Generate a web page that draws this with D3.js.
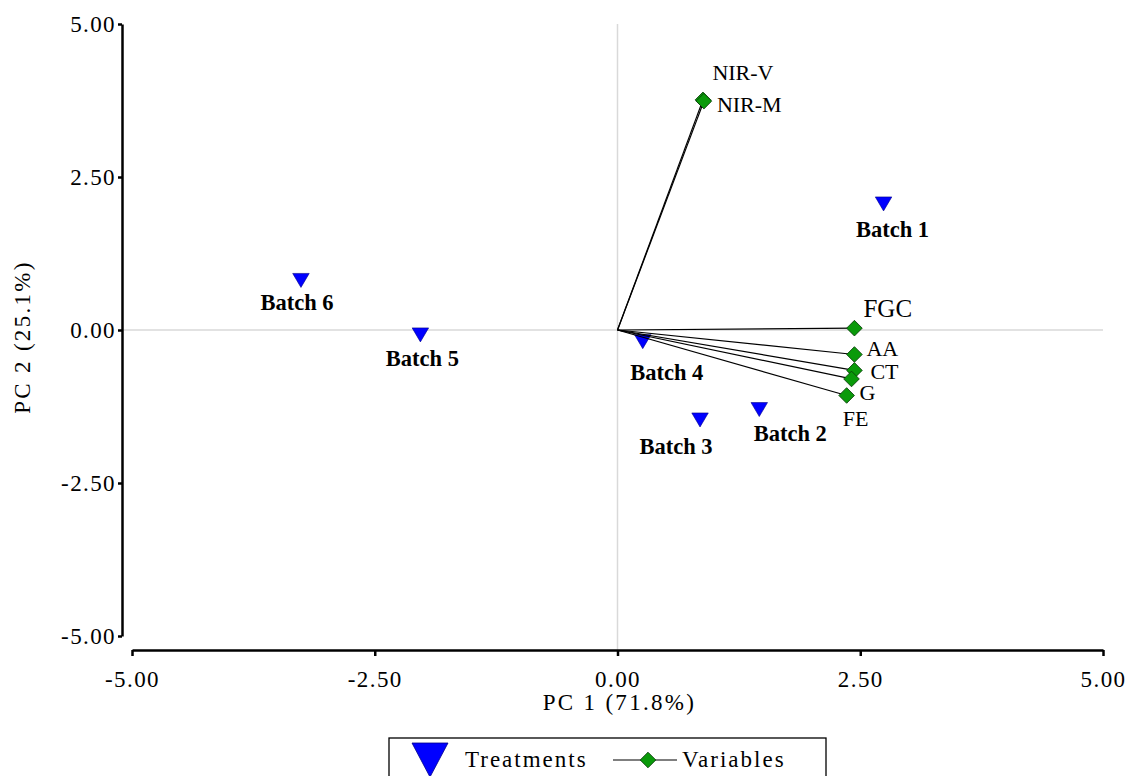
<!DOCTYPE html>
<html>
<head>
<meta charset="utf-8">
<script src="https://cdn.jsdelivr.net/npm/d3@7"></script>
<style>
  html, body { margin: 0; padding: 0; background: #fff; overflow: hidden; }
  svg { display: block; font-family: "Liberation Serif", "Times New Roman", serif; }
</style>
</head>
<body>
<div id="chart"></div>
<script>
// PCA biplot: treatments (scores) and variables (loadings)
const batchNames = ['Batch 1', 'Batch 2', 'Batch 3', 'Batch 4', 'Batch 5', 'Batch 6']
const batchX = [2.74, 1.46, 0.85, 0.26, -2.03, -3.26]
const batchY = [2.06, -1.30, -1.47, -0.19, -0.08, 0.81]

const varNames = ['NIR-V', 'NIR-M', 'FGC', 'AA', 'CT', 'G', 'FE']
const varX = [0.88, 0.89, 2.44, 2.44, 2.44, 2.41, 2.36]
const varY = [3.76, 3.74, 0.03, -0.40, -0.66, -0.80, -1.07]

const xTicks = [-5, -2.5, 0, 2.5, 5]
const yTicks = [-5, -2.5, 0, 2.5, 5]
const xTitle = 'PC 1 (71.8%)'
const yTitle = 'PC 2 (25.1%)'
const legendItems = ['Treatments', 'Variables']

// label placement (pixel offsets from the marker)
const batchLabelPos = {
    'Batch 1': [9, 33], 'Batch 2': [31, 31], 'Batch 3': [-24, 34],
    'Batch 4': [24, 38], 'Batch 5': [2, 31], 'Batch 6': [-4, 30]
}
const varLabelPos = {
    'NIR-V': [40, -20, 'middle'], 'NIR-M': [13, 11, 'start'], 'FGC': [9, -11, 'start'],
    'AA': [12, 2, 'start'], 'CT': [16, 9, 'start'], 'G': [8, 21, 'start'], 'FE': [9, 31, 'middle']
}

const w = 1133
const h = 776
const svg = d3.select('#chart').append('svg').attr('width', w).attr('height', h)

const x = d3.scaleLinear().domain([-5, 5]).range([132, 1103])
const y = d3.scaleLinear().domain([-5, 5]).range([636, 24])
const yAxisX = 122
const xAxisY = 650
const fmt = d => d3.format('.2f')(d).replace('\u2212', '-')

// zero lines
svg.append('line')
    .attr('x1', x(0)).attr('x2', x(0)).attr('y1', y(5)).attr('y2', xAxisY)
    .attr('stroke', '#d9d9d9').attr('stroke-width', 1.5)
svg.append('line')
    .attr('x1', yAxisX).attr('x2', x(5)).attr('y1', y(0)).attr('y2', y(0))
    .attr('stroke', '#d9d9d9').attr('stroke-width', 1.5)

// axes
const xAxis = svg.append('g')
    .attr('transform', `translate(0,${xAxisY})`)
    .call(d3.axisBottom(x).tickValues(xTicks).tickFormat(fmt).tickSize(6).tickSizeOuter(0).tickPadding(15))
const yAxis = svg.append('g')
    .attr('transform', `translate(${yAxisX},0)`)
    .call(d3.axisLeft(y).tickValues(yTicks).tickFormat(fmt).tickSize(4).tickSizeOuter(0).tickPadding(2))

;[xAxis, yAxis].forEach(a => {
    a.select('.domain').attr('stroke', '#000').attr('stroke-width', 2.5)
    a.selectAll('.tick line').attr('stroke', '#000').attr('stroke-width', 2.5)
    a.selectAll('.tick text')
        .attr('fill', '#000')
        .attr('font-family', '"Liberation Serif", serif')
        .attr('font-size', '23px')
        .attr('letter-spacing', '1.4px')
})

svg.append('text')
    .attr('x', x(0) + 2).attr('y', 710)
    .attr('text-anchor', 'middle')
    .attr('font-size', '23px').attr('letter-spacing', '2.3px')
    .text(xTitle)
svg.append('text')
    .attr('transform', `translate(30,${y(0) + 7}) rotate(-90)`)
    .attr('text-anchor', 'middle')
    .attr('font-size', '23px').attr('letter-spacing', '2.3px')
    .text(yTitle)

const triPath = (cx, cy, tw, th) =>
    `M${cx - tw / 2},${cy - th / 2}L${cx + tw / 2},${cy - th / 2}L${cx},${cy + th / 2}Z`
const diamond = d3.symbol().type(d3.symbolSquare).size(122)

// treatments
const batches = batchNames.map((n, i) => ({ name: n, x: batchX[i], y: batchY[i] }))
svg.selectAll('.batch')
    .data(batches).enter()
    .append('path')
    .attr('d', d => triPath(x(d.x), y(d.y), 16.5, 14))
    .attr('fill', '#0000ff')
    .attr('stroke', '#00008a')
    .attr('stroke-width', 0.6)

// variable vectors
const vars = varNames.map((n, i) => ({ name: n, x: varX[i], y: varY[i] }))
svg.selectAll('.vec')
    .data(vars).enter()
    .append('line')
    .attr('x1', x(0)).attr('y1', y(0))
    .attr('x2', d => x(d.x)).attr('y2', d => y(d.y))
    .attr('stroke', '#000').attr('stroke-width', 1.2)

svg.selectAll('.var')
    .data(vars).enter()
    .append('path')
    .attr('d', diamond)
    .attr('transform', d => `translate(${x(d.x)},${y(d.y)}) rotate(45)`)
    .attr('fill', '#0a9a0a')
    .attr('stroke', '#0b3d0b')
    .attr('stroke-width', 0.8)

// labels
svg.selectAll('.batch-label')
    .data(batches).enter()
    .append('text')
    .attr('x', d => x(d.x) + batchLabelPos[d.name][0])
    .attr('y', d => y(d.y) + batchLabelPos[d.name][1])
    .attr('text-anchor', 'middle')
    .attr('font-weight', 'bold')
    .attr('font-size', '22.5px')
    .attr('fill', '#000')
    .text(d => d.name)

svg.selectAll('.var-label')
    .data(vars).enter()
    .append('text')
    .attr('x', d => x(d.x) + varLabelPos[d.name][0])
    .attr('y', d => y(d.y) + varLabelPos[d.name][1])
    .attr('text-anchor', d => varLabelPos[d.name][2])
    .attr('font-size', d => d.name === 'FGC' ? '25px' : '22px')
    .attr('fill', '#000')
    .text(d => d.name)

// legend
const legend = svg.append('g')
legend.append('rect')
    .attr('x', 389).attr('y', 738).attr('width', 437).attr('height', 60)
    .attr('fill', '#fff').attr('stroke', '#000').attr('stroke-width', 1.3)
legend.append('path')
    .attr('d', triPath(430, 760, 36, 34))
    .attr('fill', '#0000ff').attr('stroke', '#00008a').attr('stroke-width', 0.8)
legend.append('text')
    .attr('x', 465).attr('y', 767)
    .attr('font-size', '23px').attr('letter-spacing', '2px')
    .text(legendItems[0])
legend.append('line')
    .attr('x1', 613).attr('x2', 677).attr('y1', 760).attr('y2', 760)
    .attr('stroke', '#000').attr('stroke-width', 1.2)
legend.append('path')
    .attr('d', diamond)
    .attr('transform', 'translate(648,760) rotate(45)')
    .attr('fill', '#0a9a0a').attr('stroke', '#0b3d0b').attr('stroke-width', 0.8)
legend.append('text')
    .attr('x', 682).attr('y', 767)
    .attr('font-size', '23px').attr('letter-spacing', '2px')
    .text(legendItems[1])
</script>
</body>
</html>
